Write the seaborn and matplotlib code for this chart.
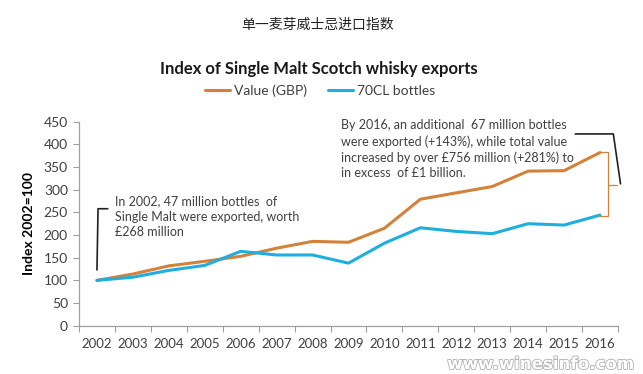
import matplotlib
matplotlib.use("Agg")
import matplotlib.pyplot as plt
import matplotlib.patheffects as pe
from matplotlib.lines import Line2D
import seaborn as sns
import pandas as pd

years = ["2002", "2003", "2004", "2005", "2006", "2007", "2008", "2009",
         "2010", "2011", "2012", "2013", "2014", "2015", "2016"]
value_gbp = [100, 114, 132, 142, 153, 171, 186, 184, 215, 279, 293, 307, 341, 342, 382]
bottles_70cl = [100, 107, 122, 133, 164, 156, 156, 138, 182, 216, 208, 203, 225, 222, 244]
series_names = ["Value (GBP)", "70CL bottles"]
yticks = [0, 50, 100, 150, 200, 250, 300, 350, 400, 450]

sns.set_theme(style="white")
plt.rcParams["font.family"] = ["Lato", "Noto Sans CJK SC", "DejaVu Sans"]

df = pd.DataFrame({
    "pos": list(range(len(years))) * 2,
    "index": value_gbp + bottles_70cl,
    "series": [series_names[0]] * len(years) + [series_names[1]] * len(years),
})

orange = "#D4823A"
blue = "#1EAEE0"
dark = "#404040"

fig = plt.figure(figsize=(6.43, 3.74), dpi=100)
ax = fig.add_axes([79 / 643, 48.3 / 374, (618 - 79) / 643, (325.7 - 121.7) / 374])

sns.lineplot(data=df, x="pos", y="index", hue="series",
             palette={series_names[0]: orange, series_names[1]: blue},
             linewidth=2.2, ax=ax, legend=False)

ax.set_xlim(-0.5, len(years) - 0.5)
ax.set_ylim(0, 450)
ax.set_yticks(yticks)
ax.set_yticklabels([str(t) for t in yticks], fontsize=10, color=dark)
ax.set_xticks(range(len(years)))
ax.set_xticklabels(years, fontsize=9.5, color=dark)
ax.set_xticks([i - 0.5 for i in range(len(years) + 1)], minor=True)
ax.tick_params(axis="x", which="major", length=0, pad=9)
ax.tick_params(axis="x", which="minor", length=4, width=0.8, color="#A0A0A0", direction="out", bottom=True)
ax.tick_params(axis="y", length=4, width=0.8, color="#A0A0A0", direction="out", left=True, pad=4)
ax.set_xlabel("")
ax.set_ylabel("Index 2002=100", fontsize=10, fontweight="bold", color="black", labelpad=6)

for s in ["top", "right"]:
    ax.spines[s].set_visible(False)
for s in ["left", "bottom"]:
    ax.spines[s].set_color("#A0A0A0")
    ax.spines[s].set_linewidth(0.9)

# Titles
fig.text(318 / 643, 1 - 25 / 374, "单一麦芽威士忌进口指数", ha="center", va="center",
         fontsize=10, family=["Noto Sans CJK SC", "DejaVu Sans"], color="#222222")
fig.text(319 / 643, 1 - 69 / 374, "Index of Single Malt Scotch whisky exports", ha="center",
         va="center", fontsize=12, fontweight="bold", color="#1a1a1a")

# Legend
handles = [Line2D([0], [0], color=orange, lw=2.2), Line2D([0], [0], color=blue, lw=2.2)]
fig.legend(handles, series_names, loc="center", bbox_to_anchor=(320 / 643, 1 - 91 / 374),
           ncol=2, frameon=False, fontsize=10, handlelength=1.8, handletextpad=0.3,
           columnspacing=1.5, labelcolor=dark)

# Left annotation
ax.plot([0.0, 0.03, 0.3], [123, 258, 258], color="#222222", lw=1.2, clip_on=False)
ax.text(0.5, 288, "In 2002, 47 million bottles  of\nSingle Malt were exported, worth\n£268 million",
        ha="left", va="top", fontsize=9, color=dark, linespacing=1.35)

# Right annotation
ax.text(6.8, 455, "By 2016, an additional  67 million bottles\nwere exported (+143%), while total value\n"
        "increased by over £756 million (+281%) to\nin excess  of £1 billion.",
        ha="left", va="top", fontsize=9, color=dark, linespacing=1.35, clip_on=False)
ax.plot([13.31, 14.37, 14.57], [423, 423, 313], color="#222222", lw=1.2, clip_on=False)
ax.plot([14.01, 14.23, 14.23, 14.01], [383, 383, 242, 242], color=orange, lw=0.9, clip_on=False)
ax.plot([14.23, 14.48], [310.6, 310.6], color=orange, lw=0.9, clip_on=False)

# Watermark
fig.text(634 / 643, 1 - 364 / 374, "www.winesinfo.com", ha="right", va="center", fontsize=12,
         color="white", fontweight="bold", family=["DejaVu Sans"],
         path_effects=[pe.withStroke(linewidth=1.2, foreground="#B0B0B0")])

fig.savefig("out.png", dpi=100)
